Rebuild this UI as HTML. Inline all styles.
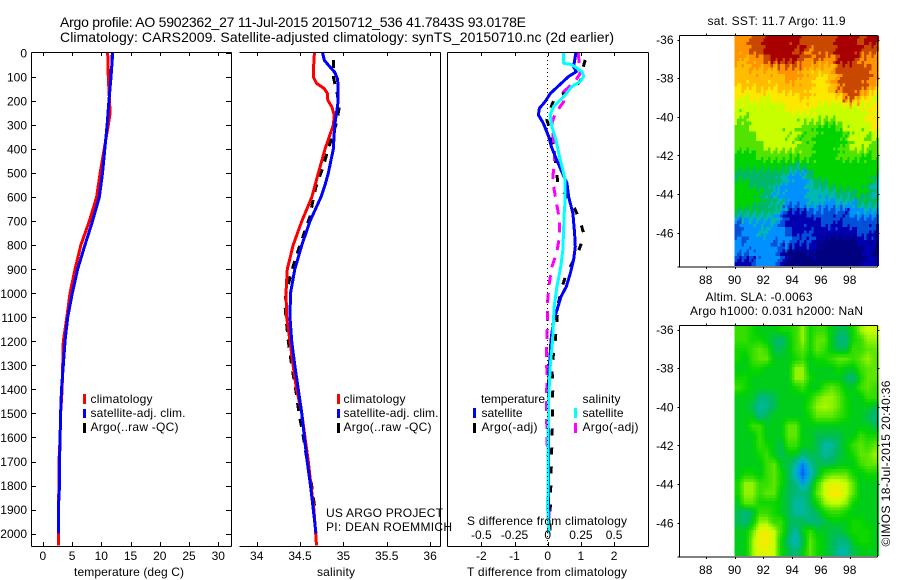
<!DOCTYPE html>
<html>
<head>
<meta charset="utf-8">
<title>Argo profile 5902362_27</title>
<style>
html,body{margin:0;padding:0;background:#fff;}
svg{display:block;}
text{font-family:"Liberation Sans",Arial,sans-serif;font-size:12px;fill:#000;}
.ttl{font-size:14px;}
</style>
</head>
<body>
<svg id="chart" xmlns="http://www.w3.org/2000/svg" width="900" height="580" viewBox="0 0 900 580">
  <rect x="0" y="0" width="900" height="580" fill="#fff"/>
  <g id="map-layer"></g>
  <g id="series-layer"></g>
  <g id="axis-layer"></g>

  <text class="ttl" x="60" y="27" textLength="466" lengthAdjust="spacing">Argo profile: AO 5902362_27 11-Jul-2015 20150712_536 41.7843S 93.0178E</text>
  <text class="ttl" x="60" y="42" textLength="554" lengthAdjust="spacing">Climatology: CARS2009. Satellite-adjusted climatology: synTS_20150710.nc (2d earlier)</text>

  <text x="74" y="576" textLength="110" lengthAdjust="spacing">temperature (deg C)</text>
  <text x="317" y="576" textLength="38" lengthAdjust="spacing">salinity</text>
  <text x="467" y="576" textLength="160" lengthAdjust="spacing">T difference from climatology</text>
  <text x="467" y="525" textLength="160" lengthAdjust="spacing">S difference from climatology</text>

  <text x="326" y="517" textLength="117" lengthAdjust="spacing">US ARGO PROJECT</text>
  <text x="326" y="531" textLength="126" lengthAdjust="spacing">PI: DEAN ROEMMICH</text>

  <g>
    <rect x="83" y="394" width="3" height="10" fill="#f00"/>
    <rect x="83" y="409" width="3" height="9" fill="#00f"/>
    <rect x="83" y="423" width="3" height="10" fill="#000"/>
    <text x="90.5" y="403" textLength="62" lengthAdjust="spacing">climatology</text>
    <text x="90.5" y="417" textLength="95" lengthAdjust="spacing">satellite-adj. clim.</text>
    <text x="90.5" y="431" textLength="88" lengthAdjust="spacing">Argo(..raw -QC)</text>
  </g>
  <g>
    <rect x="337" y="394" width="3" height="10" fill="#f00"/>
    <rect x="337" y="409" width="3" height="9" fill="#00f"/>
    <rect x="337" y="423" width="3" height="10" fill="#000"/>
    <text x="343.5" y="403" textLength="62" lengthAdjust="spacing">climatology</text>
    <text x="343.5" y="417" textLength="95" lengthAdjust="spacing">satellite-adj. clim.</text>
    <text x="343.5" y="431" textLength="88" lengthAdjust="spacing">Argo(..raw -QC)</text>
  </g>
  <g>
    <text x="481" y="403" textLength="64" lengthAdjust="spacing">temperature</text>
    <rect x="473" y="408" width="3" height="10" fill="#00f"/>
    <text x="481.5" y="417" textLength="41" lengthAdjust="spacing">satellite</text>
    <rect x="473" y="423" width="3" height="10" fill="#000"/>
    <text x="481.5" y="431" textLength="56" lengthAdjust="spacing">Argo(-adj)</text>
    <text x="582.5" y="403" textLength="38" lengthAdjust="spacing">salinity</text>
    <rect x="574" y="408" width="3" height="10" fill="#0ff"/>
    <text x="582.5" y="417" textLength="41" lengthAdjust="spacing">satellite</text>
    <rect x="574" y="423" width="3" height="10" fill="#f0f"/>
    <text x="582.5" y="431" textLength="56" lengthAdjust="spacing">Argo(-adj)</text>
  </g>

  <text x="707.5" y="25" textLength="138" lengthAdjust="spacing">sat. SST: 11.7  Argo: 11.9</text>
  <text x="705.5" y="301" textLength="107" lengthAdjust="spacing">Altim. SLA: -0.0063</text>
  <text x="690" y="315" textLength="173" lengthAdjust="spacing">Argo h1000: 0.031 h2000: NaN</text>
  <text transform="translate(890,546.5) rotate(-90)" textLength="166" lengthAdjust="spacing">©IMOS 18-Jul-2015 20:40:36</text>
</svg>

<script>
// ---- tick values ----
const depthTicks = [0,100,200,300,400,500,600,700,800,900,1000,1100,1200,1300,1400,1500,1600,1700,1800,1900,2000];
const tempTicks = [0,5,10,15,20,25,30];
const salinityTicks = [34,34.5,35,35.5,36];
const tDiffTicks = [-2,-1,0,1,2];
const sDiffTicks = [-0.5,-0.25,0,0.25,0.5];
const lonTicks = [88,90,92,94,96,98];
const latTicks = [-36,-38,-40,-42,-44,-46];

// ---- temperature profile (deg C) ----
const tempClimDepth = [0,100,250,300,400,500,600,700,800,900,1000,1100,1200,1300,1400,1500,1600,1700,1800,1900,2050];
const tempClimValues = [11.1,11.2,11.5,11.2,10.5,9.8,9.2,7.95,6.5,5.5,4.65,4.1,3.5,3.4,3.3,3.05,2.95,2.77,2.77,2.65,2.65];
const tempSatDepth = [0,100,200,300,400,500,600,700,800,900,1000,1100,1200,1300,1400,1500,1600,1700,1800,1900,2000];
const tempSatValues = [11.95,11.65,11.3,11.0,10.6,10.2,9.65,8.5,7.2,5.95,5.05,4.25,3.8,3.5,3.2,3.05,2.95,2.85,2.85,2.65,2.65];
const tempArgoValues = [11.9,11.6,11.3,11.0,10.6,10.2,9.65,8.5,7.2,5.95,5.05,4.25,3.8,3.5,3.2,3.05,2.95,2.85,2.85,2.65,2.65];

// ---- salinity profile ----
const salClimDepth = [0,80,100,126,147,168,196,223,258,300,400,500,600,700,800,900,1000,1100,1200,1300,1400,1500,1600,1700,1800,1900,2000,2050];
const salClimValues = [34.665,34.653,34.653,34.69,34.776,34.815,34.82,34.865,34.895,34.883,34.788,34.71,34.635,34.52,34.42,34.353,34.338,34.346,34.384,34.42,34.46,34.52,34.557,34.595,34.626,34.66,34.68,34.69];
const salSatDepth = [0,30,50,80,110,200,300,400,500,550,600,700,800,900,1000,1100,1200,1300,1400,1500,1600,1700,1800,1900,2000];
const salSatValues = [34.76,34.78,34.826,34.9,34.934,34.94,34.9,34.884,34.826,34.788,34.74,34.615,34.52,34.44,34.39,34.384,34.404,34.44,34.48,34.52,34.55,34.583,34.62,34.653,34.684];
const salArgoDepth = [30,100,170,230,290,400,480,560,620,680,740,820,900,1000,1050,1100,1200,1300,1400,1500,1600,1700,1800,1900];
const salArgoValues = [34.884,34.884,34.93,34.95,34.92,34.826,34.76,34.68,34.645,34.615,34.557,34.48,34.41,34.338,34.326,34.338,34.365,34.404,34.45,34.488,34.54,34.583,34.634,34.672];

// ---- difference from climatology ----
const dTSatDepth = [0,57,78,98,140,168,203,230,258,293,348,390,431,487,542,598,667,750,806,861,917,972,1014,1069,1111,1194,1306,1390,1527,1735,1900,2000];
const dTSatValues = [0.85,0.78,0.86,0.63,0.30,0.08,-0.08,-0.25,-0.28,-0.13,0.03,0.11,0.23,0.40,0.58,0.63,0.76,0.81,0.83,0.78,0.68,0.56,0.40,0.28,0.18,0.10,0.05,0.02,0.03,0.03,0.02,0.03];
const dTArgoDepth = [29,78,112,154,182,216,279,348,473,542,646,702,757,813,931,986,1056,1111,1194,1306,1390,1527,1735,1900,2000];
const dTArgoValues = [1.13,1.03,1.0,0.76,0.23,0.125,-0.025,0.125,0.26,0.30,0.81,0.98,1.1,0.96,0.53,0.41,0.30,0.28,0.23,0.125,0.155,0.145,0.105,0.075,0.075];
const dSSatDepth = [0,43,48,78,98,119,140,182,223,258,306,362,431,528,612,667,750,820,889,972,1056,1111,1194,1306,1444,1652,1900,2000];
const dSSatValues = [0.12,0.12,0.18,0.258,0.27,0.245,0.182,0.12,0.044,0.019,0.032,0.062,0.089,0.132,0.132,0.124,0.119,0.114,0.099,0.069,0.049,0.044,0.037,0.019,0.007,0.002,0,0.01];
const dSArgoDepth = [0,85,119,161,203,251,293,390,445,515,570,633,695,764,827,889,958,1028,1111,1236,1361,1444,1610,1735,2000];
const dSArgoValues = [0.23,0.245,0.205,0.12,0.12,0.057,0.032,0.049,0.052,0.039,0.049,0.069,0.089,0.089,0.069,0.032,0.012,0,0,-0.01,-0.005,-0.01,-0.005,0.005,0.01];

// ---- sea surface temperature map: colour-scale level per 0.5-degree cell, north to south ----
const sstLevels = [
[11,11,12,12,13,13,13,13,13,12,12,12,12,12,13,13,13,12,13,13],
[11,11,12,12,13,13,13,13,12,13,11,12,12,12,13,13,13,13,12,12],
[11,10,11,11,12,13,13,13,13,12,11,12,11,11,13,13,13,11,11,11],
[10,10,11,10,11,10,11,11,11,11,10,10,10,10,12,12,12,12,12,11],
[10,10,10,10,10,10,10,11,11,10,10,9,9,10,11,12,12,12,12,11],
[9,10,9,10,10,9,10,10,10,10,10,9,9,10,12,12,12,12,11,10],
[9,8,9,9,8,9,9,9,9,10,9,9,9,9,9,12,12,10,9,8],
[8,8,8,8,8,8,8,9,9,9,9,8,8,8,8,8,8,8,8,9],
[8,7,8,8,8,8,8,8,8,8,8,8,8,8,8,8,8,8,9,9],
[7,7,8,8,8,8,8,8,8,7,7,7,6,6,7,8,8,8,8,9],
[7,7,7,8,8,8,8,7,8,6,7,6,6,6,6,6,8,8,7,8],
[7,7,7,7,8,8,8,8,8,7,7,6,6,6,6,7,8,8,8,7],
[6,6,6,7,7,7,7,7,7,7,7,6,6,6,7,7,7,7,6,7],
[6,6,6,6,6,6,6,6,5,6,6,6,6,6,6,6,6,6,6,6],
[5,5,5,5,5,5,5,4,3,3,5,6,6,6,6,6,6,6,6,6],
[6,6,5,5,5,5,4,3,3,3,4,5,5,6,6,6,6,6,6,4],
[6,6,6,6,5,3,3,3,3,3,4,4,4,4,5,5,5,6,5,4],
[6,6,6,5,5,5,5,3,3,3,4,4,3,3,4,4,3,5,5,5],
[5,5,5,5,5,4,3,1,1,1,2,2,2,2,2,1,3,3,3,3],
[2,3,3,3,3,4,2,1,1,1,1,1,2,2,1,2,2,2,2,2],
[2,3,3,4,4,3,3,2,1,1,2,1,1,1,1,1,1,2,2,1],
[3,2,3,3,3,2,3,3,2,2,2,1,0,0,0,0,0,1,1,1],
[3,3,3,3,3,3,2,0,0,0,1,0,0,0,0,0,0,0,1,0],
[1,1,1,3,3,3,2,0,0,0,0,0,0,0,0,0,0,0,1,1]
];

// ---- sea level anomaly map: colour-scale level per 0.5-degree cell, north to south ----
const slaLevels = [
[7,7,6.5,6,6,6,6.5,6.5,7,8,6.5,7,7,6,5.5,5.5,6.5,8,8.5,8.5],
[7,7,6.5,6.5,6,5.5,5,6,7,8,6.5,7.5,7.5,6,5,5,6.5,7,8,8],
[6.5,6.5,7,7.5,7,5.5,5.5,6,7,7.5,6.5,7.5,7,6,5.5,5.5,7,7,7.5,7.5],
[6.5,6,7,7.5,7.5,6,6,6,6.5,7,6,6.5,6.5,7,7.5,7.5,7,7.5,8,7.5],
[6,6,6.5,6.5,6,6,6,6,8,8,6,6,6,6,6.5,6,6,7,7.5,7.5],
[6.5,6.5,6,6,6,6,6,6,8,8,6.5,6,6,6,6,5.5,5,6.5,7.5,7.5],
[7,6.5,6,6,6,6,6,6,6.5,7,6,6,7,7.5,7,6,6,7,7.5,7],
[6,6,6,5,5,5.5,6,6,6,6,6.5,7.5,8,8,7.5,6.5,6,6,7,7],
[6,6,5.5,4.5,4.8,5.5,6,6,6,6,7,8,8.2,8,7.5,6.5,6,6,6,5.5],
[6,6,6,5,5.5,6,6,6,6,6,6.5,7.5,7.5,7.5,7,6.5,6,6,5.5,5],
[6,6,7,7,6,6,6,7.5,7.5,6,6,6,6,6,6,6,6,6,6,5.5],
[6,6,6,7,6,6,6,7.5,7.5,6,6,5.5,5.5,5.5,5.5,6,6,7,6.5,6.5],
[6,6,6,7,6.5,6,5.5,7,7,6,6,5.5,4.5,4.5,5.5,6,7,7.5,7,7.5],
[6,6,6,6.5,7,6,5.5,6,6,5,5.5,5.5,4.5,5,5.5,6,6.5,7.5,7.5,8],
[6,6,6,6,7,7.5,6,5.5,4.5,3,4.5,5.5,5.5,5.5,6,6,6,7,7.5,7.5],
[6,6.5,6.5,6,7,7.5,6.5,5.5,4,2.5,4,5.5,7,7.5,7.5,7.5,6.5,6,6.5,6.5],
[6.5,8,8,7,7,7.5,6.5,5.5,5,3.5,5,7,8.5,9,9,8.5,7.5,6,6,6],
[6.5,8,8,7,7.5,7.5,6,5.5,5,5,5.5,7.5,8.5,9.5,9.5,8.5,7.5,6,6,6],
[6,7.5,7.5,6.5,6.5,6.5,6,5.5,4.5,4.5,5.5,6.5,8,8.5,8.5,8,6.5,6,6,6],
[5.5,5,5.5,7,7,6.5,6,5.5,4.5,4.5,5,5.5,6.5,7,7,6.5,6,6,6,6],
[5.5,5,6,8,8,7,7,5.5,5.5,5.5,5,5,5.5,6,6,6,6.5,6.5,6,6],
[6,6,7.5,9,9.3,8.5,7,5.5,4.5,6,7,6,6,5.5,5.5,6,6.5,6.5,6.5,6],
[6,6,8,9.3,9.5,8.5,6.5,5,4,5.5,7.5,6.5,6,5.5,5,5,6,6.5,6.5,6],
[6,6,8,9,9,8.5,6.5,5.5,5,6,7.5,6.5,6,5.5,4.5,4.5,5.5,6,6,6]
];

const NS = 'http://www.w3.org/2000/svg';
const mapLayer = document.getElementById('map-layer');
const seriesLayer = document.getElementById('series-layer');
const axisLayer = document.getElementById('axis-layer');

// ---- axis functions ----
const PANEL_TOP = 52, PANEL_BOTTOM = 546;
function yDepth(d){ return 53 + 0.2403 * d; }
function xTemp(v){ return 42.8 + 5.85 * v; }
function xSal(v){ return 256.7 + 86.7 * (v - 34); }
function xDT(v){ return 547.7 + 33.2 * v; }
function xDS(v){ return 547.7 + 132.8 * v; }
function xLon(v){ return 705.7 + 14.4 * (v - 88); }
function yLat(v, top){ return top + 4 + 19.33 * (-36 - v); }

const colourRamp = ['#000080','#0000b0','#0050d8','#0090ff','#00b8b0','#00b868','#00d400','#50e400','#c8ff00','#ffe800','#ffbc00','#ff9400','#c84800','#a80000'];
function hexToRgb(h){ return [parseInt(h.slice(1,3),16),parseInt(h.slice(3,5),16),parseInt(h.slice(5,7),16)]; }
function levelColour(v){
  const lo = Math.max(0, Math.min(colourRamp.length - 2, Math.floor(v)));
  const t = Math.max(0, Math.min(1, v - lo));
  const a = hexToRgb(colourRamp[lo]), b = hexToRgb(colourRamp[lo + 1]);
  return 'rgb(' + a.map((c, i) => Math.round(c + (b[i] - c) * t)).join(',') + ')';
}

function make(tag, attrs, parent){
  const el = document.createElementNS(NS, tag);
  for (const k in attrs) el.setAttribute(k, attrs[k]);
  parent.appendChild(el);
  return el;
}
function seg(x1, y1, x2, y2, parent, name){
  const el = make('line', {x1, y1, x2, y2, stroke:'#000', 'stroke-width':1, 'shape-rendering':'crispEdges'}, parent);
  
  
  return el;
}
function label(x, y, str, anchor, parent, name){
  const el = make('text', {x, y, 'text-anchor':anchor}, parent);
  el.textContent = str;
  
  
  return el;
}
function drawLine(depths, values, xFn, colour, dash, parent, name){
  const pts = depths.map((d, i) => xFn(values[i]).toFixed(1) + ',' + yDepth(d).toFixed(1)).join(' ');
  const attrs = {points:pts, fill:'none', stroke:colour, 'stroke-width':3, 'shape-rendering':'crispEdges', 'stroke-linejoin':'round'};
  if (dash) attrs['stroke-dasharray'] = dash;
  const el = make('polyline', attrs, parent);
  
  
  return el;
}

// ---- profile series ----
drawLine(tempSatDepth, tempArgoValues, xTemp, '#000', '8 8', seriesLayer, 'temperature-argo-line');
drawLine(tempClimDepth, tempClimValues, xTemp, '#f00', null, seriesLayer, 'temperature-climatology-line');
drawLine(tempSatDepth, tempSatValues, xTemp, '#00f', null, seriesLayer, 'temperature-satellite-line');

drawLine(salArgoDepth, salArgoValues, xSal, '#000', '8 8', seriesLayer, 'salinity-argo-line');
drawLine(salClimDepth, salClimValues, xSal, '#f00', null, seriesLayer, 'salinity-climatology-line');
drawLine(salSatDepth, salSatValues, xSal, '#00f', null, seriesLayer, 'salinity-satellite-line');

drawLine(dTArgoDepth, dTArgoValues, xDT, '#000', '7 12', seriesLayer, 't-difference-argo-line');
drawLine(dSArgoDepth, dSArgoValues, xDS, '#f0f', '10 8', seriesLayer, 's-difference-argo-line');
drawLine(dTSatDepth, dTSatValues, xDT, '#00f', null, seriesLayer, 't-difference-satellite-line');
drawLine(dSSatDepth, dSSatValues, xDS, '#0ff', null, seriesLayer, 's-difference-satellite-line');

const zeroLine = make('line', {x1:xDT(0), y1:PANEL_TOP, x2:xDT(0), y2:PANEL_BOTTOM, stroke:'#000', 'stroke-width':1, 'stroke-dasharray':'1 3', 'shape-rendering':'crispEdges'}, seriesLayer);



// ---- profile axes ----
// temperature panel frame
seg(31.5, PANEL_TOP+.5, 231.5, PANEL_TOP+.5, axisLayer, 'temperature-top-axis');
seg(31.5, PANEL_BOTTOM+.5, 231.5, PANEL_BOTTOM+.5, axisLayer, 'temperature-bottom-axis');
seg(31.5, PANEL_TOP+.5, 31.5, PANEL_BOTTOM+.5, axisLayer, 'depth-axis');
seg(231.5, PANEL_TOP+.5, 231.5, PANEL_BOTTOM+.5, axisLayer, 'temperature-right-axis');
// salinity panel frame
seg(239.5, PANEL_TOP+.5, 440.5, PANEL_TOP+.5, axisLayer, 'salinity-top-axis');
seg(239.5, PANEL_BOTTOM+.5, 440.5, PANEL_BOTTOM+.5, axisLayer, 'salinity-bottom-axis');
seg(440.5, PANEL_TOP+.5, 440.5, PANEL_BOTTOM+.5, axisLayer, 'salinity-right-axis');
// difference panel frame
seg(447.5, PANEL_TOP+.5, 648.5, PANEL_TOP+.5, axisLayer, 'difference-top-axis');
seg(447.5, PANEL_BOTTOM+.5, 648.5, PANEL_BOTTOM+.5, axisLayer, 'difference-bottom-axis');
seg(447.5, PANEL_TOP+.5, 447.5, PANEL_BOTTOM+.5, axisLayer, 'difference-left-axis');
seg(648.5, PANEL_TOP+.5, 648.5, PANEL_BOTTOM+.5, axisLayer, 'difference-right-axis');

depthTicks.forEach(d => {
  const y = Math.round(yDepth(d)) + .5;
  if (d > 0) seg(32, y, 36, y, axisLayer, 'depth-tick');
  seg(226, y, 231, y, axisLayer, 'depth-tick-right');
  label(27, yDepth(d) + 4.5, String(d), 'end', axisLayer, 'depth-tick-label');
});
function xTicks(ticks, xFn, texts, labelY, labelName, tickName){
  ticks.forEach((v, i) => {
    const x = Math.round(xFn(v)) + .5;
    seg(x, PANEL_TOP, x, PANEL_TOP + 4, axisLayer, tickName);
    seg(x, PANEL_BOTTOM - 4, x, PANEL_BOTTOM, axisLayer, tickName);
    label(xFn(v), labelY, texts(v), 'middle', axisLayer, labelName);
  });
}
xTicks(tempTicks, xTemp, v => String(v), 560, 'temperature-tick-label', 'temperature-tick');
xTicks(salinityTicks, xSal, v => String(v), 560, 'salinity-tick-label', 'salinity-tick');
xTicks(tDiffTicks, xDT, v => String(v), 560, 't-difference-tick-label', 't-difference-tick');
sDiffTicks.forEach(v => {
  label(xDS(v), 539, String(v), 'middle', axisLayer, 's-difference-tick-label');
});

// ---- maps ----
const CELL_W = 7.2, CELL_H = 9.58;
function mapFrame(top, prefix){
  const bottom = top + 231.5;
  const left = 679.5, right = 877.5;
  seg(left, top, right, top, axisLayer, prefix + '-top-axis');
  seg(left, bottom, right, bottom, axisLayer, prefix + '-bottom-axis');
  seg(left, top, left, bottom, axisLayer, prefix + '-left-axis');
  seg(right, top, right, bottom, axisLayer, prefix + '-right-axis');
  seg(left - 2, bottom, left, bottom, axisLayer, prefix + '-corner-tick');
  lonTicks.forEach(v => {
    const x = Math.round(xLon(v)) + .5;
    seg(x, top - 2, x, top, axisLayer, prefix + '-lon-tick');
    seg(x, bottom, x, bottom + 2, axisLayer, prefix + '-lon-tick');
    label(xLon(v), bottom + 17, String(v), 'middle', axisLayer, prefix + '-lon-label');
  });
  latTicks.forEach(v => {
    const y = Math.round(yLat(v, top)) + .5;
    seg(left - 2, y, left, y, axisLayer, prefix + '-lat-tick');
    seg(right, y, right + 2, y, axisLayer, prefix + '-lat-tick');
    label(673.5, yLat(v, top) + 4.5, String(v), 'end', axisLayer, prefix + '-lat-label');
  });
}
function gridAt(grid, fr, fc){
  const r0 = Math.max(0, Math.min(grid.length - 1, Math.floor(fr)));
  const r1 = Math.min(grid.length - 1, r0 + 1);
  const c0 = Math.max(0, Math.min(19, Math.floor(fc)));
  const c1 = Math.min(19, c0 + 1);
  const tr = Math.max(0, Math.min(1, fr - r0)), tc = Math.max(0, Math.min(1, fc - c0));
  const a = grid[r0][c0] * (1 - tc) + grid[r0][c1] * tc;
  const b = grid[r1][c0] * (1 - tc) + grid[r1][c1] * tc;
  return a * (1 - tr) + b * tr;
}
function drawSst(top){
  const sub = 3;
  for (let r = 0; r < sstLevels.length * sub; r++) {
    for (let c = 0; c < 20 * sub; c++) {
      const toothC = 0.4 * ((r % 3) - 1);
      const toothR = 0.4 * ((c % 3) - 1);
      const v = Math.round(gridAt(sstLevels, (r + .5) / sub - .5 + toothR, (c + .5) / sub - .5 + toothC));
      const el = make('rect', {x:(xLon(90) + c * CELL_W / sub).toFixed(2), y:(top + r * CELL_H / sub).toFixed(2), width:(CELL_W / sub + .4).toFixed(2), height:(CELL_H / sub + .4).toFixed(2), fill:levelColour(v), 'shape-rendering':'crispEdges'}, mapLayer);
      
      
    }
  }
}
function slaColourLevel(v){
  return v <= 6 ? v - 0.25 : 5.75 + (v - 6) * 0.9;
}
function drawSla(top){
  const sub = 3;
  for (let r = 0; r < slaLevels.length * sub; r++) {
    for (let c = 0; c < 20 * sub; c++) {
      const v = gridAt(slaLevels, (r + .5) / sub - .5, (c + .5) / sub - .5);
      const el = make('rect', {x:(xLon(90) + c * CELL_W / sub).toFixed(2), y:(top + r * CELL_H / sub).toFixed(2), width:(CELL_W / sub + .4).toFixed(2), height:(CELL_H / sub + .4).toFixed(2), fill:levelColour(slaColourLevel(v)), 'shape-rendering':'crispEdges'}, mapLayer);
      
      
    }
  }
}
drawSst(35.5);
drawSla(325.5);
mapFrame(35.5, 'sst-map');
mapFrame(325.5, 'sla-map');
</script>
</body>
</html>
